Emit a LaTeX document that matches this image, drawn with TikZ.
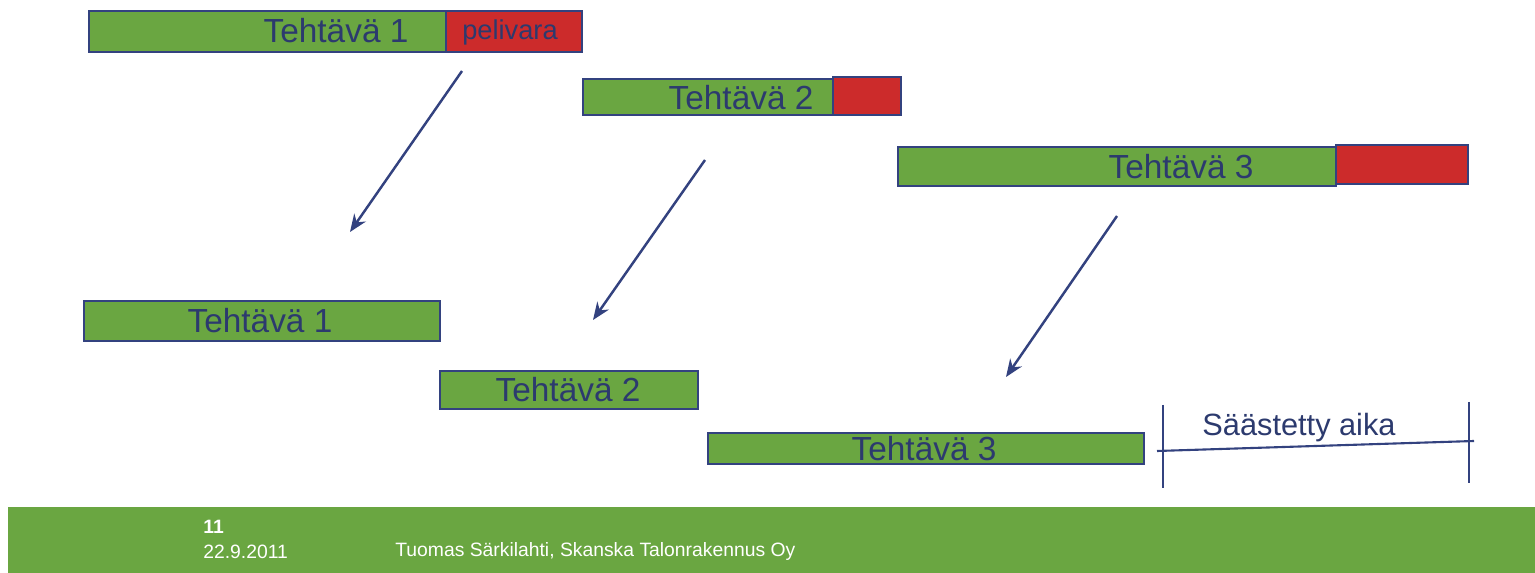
\documentclass[tikz,border=0pt]{standalone}
\usepackage{fontspec}
\setmainfont{Liberation Sans}
\usetikzlibrary{positioning,arrows.meta}
\definecolor{bargreen}{HTML}{6AA641}
\definecolor{barred}{HTML}{CC2B2B}
\definecolor{navy}{HTML}{33427F}
\definecolor{txtblue}{HTML}{2C3A6E}

\begin{document}
\begin{tikzpicture}[x=0.02cm,y=-0.02cm,
        gbar/.style={draw=navy,line width=1.2pt,fill=bargreen,inner sep=0pt,anchor=north west},
        rbar/.style={draw=navy,line width=1.2pt,fill=barred,inner sep=0pt,anchor=north west},
        tlab/.style={text=txtblue,font=\fontsize{19}{19}\selectfont,inner sep=0pt},
        shift arrow/.style={draw=navy,line width=1.4pt,-{Stealth[length=10pt,width=8pt]}},
        foot/.style={text=white,font=\fontsize{11}{11}\selectfont,inner sep=0pt,anchor=west}]
        \useasboundingbox (0,0) rectangle (1535,573);
        \fill[white] (0,0) rectangle (1535,573);

        % original schedule
        \node [gbar,minimum width=7.14cm,minimum height=0.82cm] (t1a) at (88,10) {};
        \node [rbar,minimum width=2.72cm,minimum height=0.82cm] (p1) at (445,10) {};
        \node [gbar,minimum width=5.0cm,minimum height=0.72cm] (t2a) at (582,78) {};
        \node [rbar,minimum width=1.36cm,minimum height=0.76cm] (p2) at (832,76) {};
        \node [gbar,minimum width=8.76cm,minimum height=0.78cm] (t3a) at (897,146) {};
        \node [rbar,minimum width=2.64cm,minimum height=0.78cm] (p3) at (1335,144) {};

        \node [tlab] (t1alab) at (336,31) {Tehtävä 1};
        \node [tlab,font=\fontsize{15.5}{15.5}\selectfont] (p1lab) at (510,32) {pelivara};
        \node [tlab] (t2alab) at (741,98) {Tehtävä 2};
        \node [tlab] (t3alab) at (1181,167) {Tehtävä 3};

        % shifted schedule
        \node [gbar,minimum width=7.12cm,minimum height=0.8cm] (t1b) at (83,300) {};
        \node [gbar,minimum width=5.16cm,minimum height=0.76cm] (t2b) at (439,370) {};
        \node [gbar,minimum width=8.72cm,minimum height=0.62cm] (t3b) at (707,432) {};

        \node [tlab] (t1blab) at (260,321) {Tehtävä 1};
        \node [tlab] (t2blab) at (568,390) {Tehtävä 2};
        \node [tlab] (t3blab) at (924,449) {Tehtävä 3};

        % arrows
        \coordinate (a1s) at (462,71);
        \coordinate (a1e) at (350,232);
        \coordinate (a2s) at (705,160);
        \coordinate (a2e) at (593,320);
        \coordinate (a3s) at (1117,216);
        \coordinate (a3e) at (1006,377);
        \draw [shift arrow] (a1s) -- (a1e);
        \draw [shift arrow] (a2s) -- (a2e);
        \draw [shift arrow] (a3s) -- (a3e);

        % saved time
        \coordinate (s1t) at (1163,405);
        \coordinate (s1b) at (1163,488);
        \coordinate (s2t) at (1469,402);
        \coordinate (s2b) at (1469,483);
        \coordinate (sl) at (1157,451);
        \coordinate (sr) at (1474,441);
        \draw [navy,line width=1.2pt] (s1t) -- (s1b);
        \draw [navy,line width=1.2pt] (s2t) -- (s2b);
        \draw [navy,line width=1.2pt] (sl) -- (sr);
        \node [tlab,font=\fontsize{17.5}{17.5}\selectfont] (savedlab) at (1299,428) {Säästetty aika};

        % footer
        \fill [bargreen] (8,507) rectangle (1535,573);
        \node [foot,font=\bfseries\fontsize{11}{11}\selectfont] (page) at (203,527) {11};
        \node [foot] (date) at (203,552) {22.9.2011};
        \node [foot] (author) at (395,552) {Tuomas Särkilahti, Skanska Talonrakennus Oy};
    \end{tikzpicture}
\end{document}
